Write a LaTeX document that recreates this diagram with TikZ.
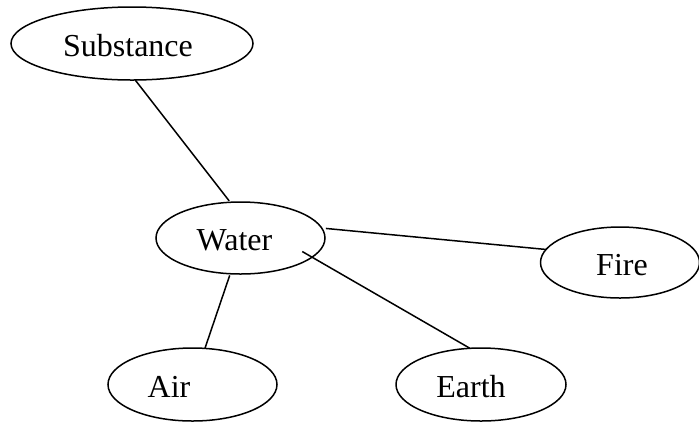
\documentclass[tikz,border=0pt]{standalone}
\usepackage{fontspec}
\setmainfont{Liberation Serif}
\usetikzlibrary{shapes.geometric}
\begin{document}
\begin{tikzpicture}[x=0.4pt, y=-0.4pt, line width=0.6pt,
    blob/.style={ellipse, draw, inner sep=0pt, outer sep=0pt},
    word/.style={inner sep=0pt, font=\fontsize{12.8pt}{15pt}\selectfont}]
    \useasboundingbox (0,0) rectangle (699,421);
    % the ellipses
    \node[blob, minimum width=96.8pt, minimum height=29.2pt] (sub) at (132,43.5) {};
    \node[blob, minimum width=67.6pt, minimum height=28.8pt] (water) at (240.5,238) {};
    \node[blob, minimum width=63.6pt, minimum height=28.4pt] (fire) at (620,262.5) {};
    \node[blob, minimum width=67.6pt, minimum height=29.2pt] (air) at (192.5,384.5) {};
    \node[blob, minimum width=68pt, minimum height=29.2pt] (earth) at (481,384.5) {};
    % the words
    \node[word] (subtext) at (128,46) {Substance};
    \node[word] (watertext) at (234.5,240) {Water};
    \node[word] (firetext) at (622,265) {Fire};
    \node[word] (airtext) at (169,387) {Air};
    \node[word] (earthtext) at (471,387) {Earth};
    % the links
    \draw[shorten >=0.7pt] (sub.-85.3) -- (water.106.4);
    \draw[shorten <=1.7pt] (water.7.6) -- (fire.170.4);
    \draw[shorten <=0.7pt] (water.-106.4) -- (air.71.7);
    \draw[shorten <=-4.5pt] (water.-15.7) -- (earth.107.6);
\end{tikzpicture}
\end{document}
